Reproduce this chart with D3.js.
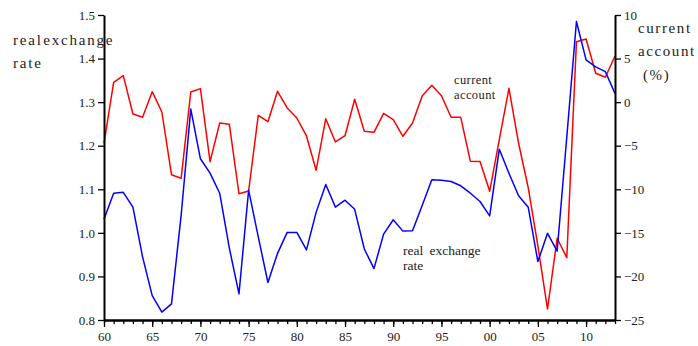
<!DOCTYPE html>
<html>
<head>
<meta charset="utf-8">
<script src="https://cdn.jsdelivr.net/npm/d3@7"></script>
<style>
  html, body { margin: 0; padding: 0; background: #fff; }
  svg { display: block; }
  text { font-family: "Liberation Serif", "Times New Roman", "DejaVu Serif", serif; fill: #222; }
</style>
</head>
<body>
<svg id="chart" width="698" height="346"></svg>
<script>
// Annual series, 1960–2013
const years = d3.range(1960, 2014);
const realExchangeRate = [
  1.031, 1.091, 1.093, 1.059, 0.945, 0.856, 0.818, 0.837, 1.040, 1.284,
  1.170, 1.137, 1.091, 0.965, 0.860, 1.098, 0.991, 0.886, 0.953, 1.001,
  1.001, 0.961, 1.047, 1.111, 1.059, 1.075, 1.054, 0.963, 0.918, 0.997,
  1.030, 1.004, 1.005, 1.063, 1.122, 1.121, 1.118, 1.108, 1.091, 1.072,
  1.039, 1.192, 1.137, 1.085, 1.059, 0.934, 0.999, 0.958, 1.220, 1.485,
  1.397, 1.381, 1.370, 1.320
];
const currentAccount = [
  -4.72, 2.28, 3.04, -1.36, -1.74, 1.20, -1.13, -8.33, -8.74, 1.16,
  1.55, -6.83, -2.39, -2.54, -10.51, -10.20, -1.51, -2.24, 1.24, -0.67,
  -1.82, -3.88, -7.82, -1.90, -4.57, -3.85, 0.33, -3.35, -3.46, -1.28,
  -2.01, -3.92, -2.39, 0.71, 1.93, 0.74, -1.74, -1.74, -6.79, -6.81,
  -10.23, -4.30, 1.59, -4.72, -9.82, -16.50, -23.74, -15.62, -17.85, 6.94,
  7.25, 3.31, 2.85, 5.30
];
const leftTicks = [0.8, 0.9, 1.0, 1.1, 1.2, 1.3, 1.4, 1.5];
const rightTicks = [-25, -20, -15, -10, -5, 0, 5, 10];
const yearTicks = [1960, 1965, 1970, 1975, 1980, 1985, 1990, 1995, 2000, 2005, 2010];

const serif = "'Liberation Serif', 'Times New Roman', 'DejaVu Serif', serif";
const svg = d3.select("#chart");

const x = d3.scaleLinear().domain([1960, 2013]).range([104, 615]);
const yL = d3.scaleLinear().domain([0.8, 1.5]).range([320, 15]);
const yR = d3.scaleLinear().domain([-25, 10]).range([320, 15]);

// Lines
const lineRate = d3.line().x((d, i) => x(years[i])).y(d => yL(d));
const lineCA = d3.line().x((d, i) => x(years[i])).y(d => yR(d));

svg.append("path").datum(currentAccount)
  .attr("d", lineCA).attr("fill", "none")
  .attr("stroke", "#ff0000").attr("stroke-width", 1.5).attr("stroke-linejoin", "round");

svg.append("path").datum(realExchangeRate)
  .attr("d", lineRate).attr("fill", "none")
  .attr("stroke", "#0000ff").attr("stroke-width", 1.5).attr("stroke-linejoin", "round");

// Axes
function styleAxis(g) {
  g.attr("font-family", serif);
  g.select(".domain").attr("stroke", "#000").attr("stroke-width", 2);
  g.selectAll(".tick line").attr("stroke", "#000").attr("stroke-width", 1.3);
  g.selectAll(".tick text").style("font-size", "13px")
    .style("font-family", serif).attr("fill", "#222");
}

svg.append("g").attr("transform", "translate(104,0)")
  .call(d3.axisLeft(yL).tickValues(leftTicks).tickFormat(d3.format(".1f"))
    .tickSize(6).tickSizeOuter(0).tickPadding(3))
  .call(styleAxis);

svg.append("g").attr("transform", "translate(615,0)")
  .call(d3.axisRight(yR).tickValues(rightTicks).tickFormat(d3.format("d"))
    .tickSize(6).tickSizeOuter(0).tickPadding(3))
  .call(styleAxis);

// Minor year ticks
svg.append("g").attr("transform", "translate(0,320)")
  .call(d3.axisBottom(x).tickValues(years).tickFormat("").tickSize(4).tickSizeOuter(0))
  .call(styleAxis);

svg.append("g").attr("transform", "translate(0,320)")
  .call(d3.axisBottom(x).tickValues(yearTicks)
    .tickFormat(d => String(d % 100).padStart(2, "0"))
    .tickSize(7).tickSizeOuter(0).tickPadding(5))
  .call(styleAxis);

// Axis titles
const leftTitle = svg.append("text").style("font-family", serif)
  .style("font-size", "15px").style("letter-spacing", "1.8px").style("word-spacing", "-5px");
leftTitle.append("tspan").attr("x", 13).attr("y", 45).text("real exchange");
leftTitle.append("tspan").attr("x", 13).attr("y", 68).text("rate");

const rightTitle = svg.append("text").style("font-family", serif)
  .style("font-size", "15px").style("letter-spacing", "1.6px");
rightTitle.append("tspan").attr("x", 638).attr("y", 33).text("current");
rightTitle.append("tspan").attr("x", 638).attr("y", 56).text("account");
rightTitle.append("tspan").attr("x", 643).attr("y", 80).text("(%)");

// In-plot labels
const caLabel = svg.append("text").style("font-family", serif)
  .style("font-size", "12.5px").style("letter-spacing", "0.4px");
caLabel.append("tspan").attr("x", 454).attr("y", 84).text("current");
caLabel.append("tspan").attr("x", 454).attr("y", 99).text("account");

const rLabel = svg.append("text").style("font-family", serif)
  .style("font-size", "13.5px").style("word-spacing", "3px");
rLabel.append("tspan").attr("x", 403).attr("y", 255).text("real exchange");
rLabel.append("tspan").attr("x", 403).attr("y", 270).text("rate");
</script>
</body>
</html>
